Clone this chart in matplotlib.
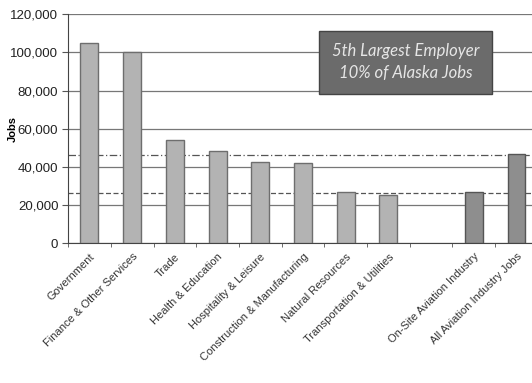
import numpy as np
import matplotlib.pyplot as plt

# jobs by sector, with aviation figures on the right after a gap
categories = ['Government', 'Finance & Other Services', 'Trade', 'Health & Education',
              'Hospitality & Leisure', 'Construction & Manufacturing', 'Natural Resources',
              'Transportation & Utilities', '', 'On-Site Aviation Industry',
              'All Aviation Industry Jobs']
jobs = [105000, 100000, 54000, 48500, 42500, 42000, 27000, 25300, 0, 27000, 46800]
onsite_jobs = 26500
all_aviation_jobs = 46200

plt.rcParams['font.family'] = ['Liberation Sans', 'DejaVu Sans']

fig = plt.figure(figsize=(5.32, 3.83), dpi=100)
ax = fig.add_axes([0.128, 0.365, 0.883, 0.598])

x = np.arange(len(categories))
colors = ['#b3b3b3'] * 8 + ['none', '#8e8e8e', '#8e8e8e']
edges = ['#6e6e6e'] * 8 + ['none', '#555555', '#555555']
ax.bar(x, jobs, width=0.42, color=colors, edgecolor=edges, linewidth=1.0, zorder=3)

ax.axhline(all_aviation_jobs, color='#555555', linestyle=(0, (6, 2, 1, 2)), linewidth=0.9, zorder=2)
ax.axhline(onsite_jobs, color='#555555', linestyle=(0, (4, 2)), linewidth=0.9, zorder=2)

ax.set_xlim(-0.5, 10.5)
ax.set_ylim(0, 120000)
ax.set_yticks(np.arange(0, 120001, 20000))
ax.set_yticklabels([f'{v:,}' for v in range(0, 120001, 20000)], fontsize=9.5, color='#222222')
ax.yaxis.grid(True, color='#777777', linewidth=0.9, zorder=1)
ax.set_axisbelow(True)

ax.set_xticks(x)
ax.set_xticklabels(categories, rotation=45, ha='right', rotation_mode='anchor',
                   fontsize=8, color='#333333')
ax.set_xticks(np.arange(-0.5, 10.6, 1), minor=True)
ax.tick_params(axis='x', which='major', length=0, pad=6)
ax.tick_params(axis='x', which='minor', length=3, color='#555555')
ax.tick_params(axis='y', length=4, color='#555555', pad=3)

for side in ['top', 'right']:
    ax.spines[side].set_visible(False)
ax.spines['left'].set_color('#444444')
ax.spines['bottom'].set_color('#444444')

ax.set_ylabel('Jobs', fontsize=8, fontweight='bold')
ax.yaxis.set_label_coords(-0.108, 0.5)

ax.text(0.718, 0.79, '5th Largest Employer\n10% of Alaska Jobs', transform=ax.transAxes,
        ha='center', va='center', fontsize=12, style='italic', color='#e6e6e6',
        family=['Lato', 'DejaVu Sans'], linespacing=1.45, zorder=5,
        bbox=dict(boxstyle='square,pad=0.75', facecolor='#6b6b6b', edgecolor='#444444'))

fig.savefig('out.png', dpi=100)
